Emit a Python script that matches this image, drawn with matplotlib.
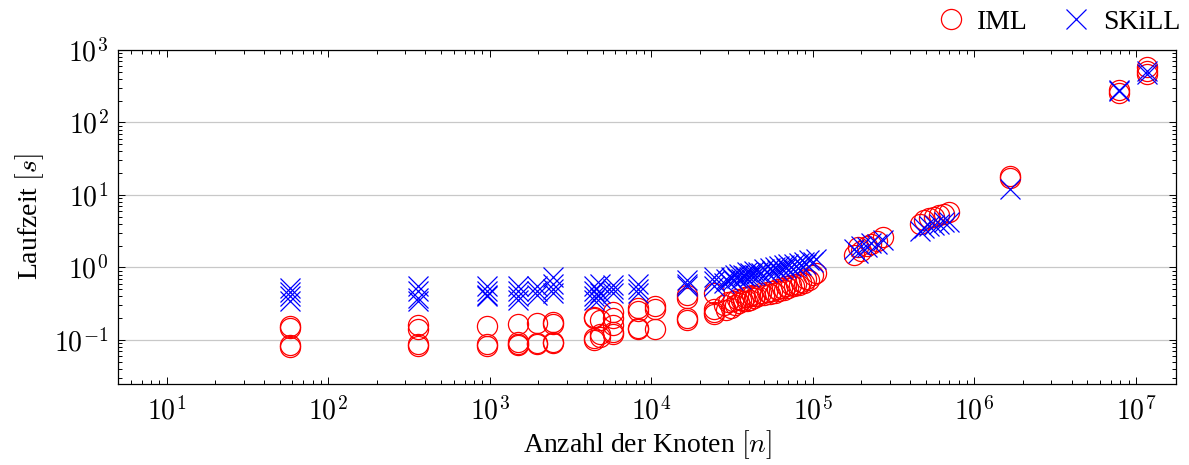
import numpy as np
import matplotlib
matplotlib.use("Agg")
import matplotlib.pyplot as plt
from matplotlib.ticker import LogLocator, FuncFormatter, NullFormatter, FixedLocator

plt.rcParams['font.family'] = ['Liberation Serif', 'DejaVu Serif']
plt.rcParams['mathtext.fontset'] = 'cm'

# ---------------- data ----------------
iml_nodes = [
    58, 58, 58, 58,
    360, 360, 360, 360,
    960, 960, 960,
    1500, 1500, 1500, 1500,
    1950, 1950, 1950,
    2450, 2450, 2450, 2450,
    4400, 4400, 4400, 4400,
    4800, 4800, 4800,
    5800, 5800, 5800, 5800, 5800,
    8300, 8300, 8300, 8300,
    10500, 10500, 10500,
    16600, 16600, 16600, 16600,
    24500, 24500, 24500, 24500,
    28000, 29000, 30000, 31000, 32000, 33000, 34000, 35000, 36000, 37000,
    38000, 39000, 40000, 41000, 42000, 43000, 44000, 46000, 48000, 50000,
    52000, 54000, 56000, 58000, 60000, 62000, 64000, 66000, 68000, 70000,
    73000, 76000, 79000, 82000, 85000, 88000, 91000, 95000, 100000, 105000,
    180000, 190000, 200000, 215000, 230000, 250000, 270000,
    460000, 490000, 520000, 560000, 600000, 650000, 700000,
    1650000, 1650000,
    7800000, 7800000,
    11700000, 11700000, 11700000,
]
iml_time = [
    0.155, 0.145, 0.085, 0.080,
    0.160, 0.140, 0.088, 0.082,
    0.155, 0.088, 0.083,
    0.165, 0.095, 0.088, 0.085,
    0.170, 0.090, 0.087,
    0.175, 0.165, 0.095, 0.090,
    0.210, 0.200, 0.105, 0.100,
    0.190, 0.120, 0.110,
    0.240, 0.200, 0.160, 0.130, 0.120,
    0.280, 0.250, 0.145, 0.140,
    0.290, 0.270, 0.140,
    0.420, 0.380, 0.200, 0.190,
    0.450, 0.270, 0.240, 0.230,
    0.30, 0.26, 0.33, 0.28, 0.35, 0.30, 0.37, 0.32, 0.36, 0.34,
    0.39, 0.35, 0.40, 0.36, 0.42, 0.38, 0.41, 0.40, 0.44, 0.42,
    0.46, 0.43, 0.48, 0.45, 0.50, 0.47, 0.52, 0.49, 0.55, 0.52,
    0.57, 0.55, 0.60, 0.58, 0.64, 0.62, 0.70, 0.68, 0.78, 0.85,
    1.50, 1.90, 1.70, 2.00, 2.10, 2.30, 2.60,
    4.00, 4.50, 4.80, 5.00, 5.30, 5.50, 5.80,
    18.5, 17.0,
    285.0, 255.0,
    580.0, 520.0, 470.0,
]

skill_nodes = [
    58, 58, 58, 58,
    360, 360, 360, 360,
    960, 960, 960, 960,
    1500, 1500, 1500, 1500,
    1950, 1950, 1950,
    2450, 2450, 2450, 2450,
    4400, 4400, 4400, 4400,
    4800, 4800, 4800,
    5800, 5800, 5800,
    8300, 8300, 8300,
    16600, 16600, 16600,
    24500, 24500, 24500,
    28000, 29000, 30000, 31000, 32000, 33000, 34000, 35000, 36000, 37000,
    38000, 39000, 40000, 41000, 42000, 43000, 44000, 46000, 48000, 50000,
    52000, 54000, 56000, 58000, 60000, 62000, 64000, 66000, 68000, 70000,
    73000, 76000, 79000, 82000, 85000, 88000, 91000, 95000, 100000, 105000,
    180000, 190000, 200000, 215000, 230000, 250000, 270000,
    460000, 490000, 520000, 560000, 600000, 650000, 700000,
    1650000,
    7800000, 7800000,
    11700000, 11700000,
]
skill_time = [
    0.52, 0.46, 0.40, 0.35,
    0.56, 0.48, 0.38, 0.34,
    0.55, 0.48, 0.42, 0.40,
    0.55, 0.47, 0.40, 0.36,
    0.55, 0.48, 0.42,
    0.75, 0.60, 0.50, 0.45,
    0.55, 0.48, 0.40, 0.36,
    0.60, 0.45, 0.38,
    0.58, 0.50, 0.44,
    0.60, 0.50, 0.45,
    0.68, 0.60, 0.55,
    0.75, 0.65, 0.55,
    0.62, 0.70, 0.66, 0.75, 0.68, 0.78, 0.72, 0.82, 0.70, 0.80,
    0.76, 0.86, 0.74, 0.84, 0.80, 0.90, 0.78, 0.88, 0.84, 0.95,
    0.86, 0.98, 0.90, 1.00, 0.92, 1.05, 0.95, 1.08, 0.98, 1.10,
    1.02, 1.12, 1.05, 1.15, 1.08, 1.20, 1.12, 1.25, 1.20, 1.30,
    1.80, 1.60, 2.00, 1.90, 2.20, 2.10, 2.40,
    3.20, 3.50, 3.70, 3.80, 4.00, 4.20, 4.30,
    12.0,
    280.0, 270.0,
    520.0, 470.0,
]

x_major_ticks = [1e1, 1e2, 1e3, 1e4, 1e5, 1e6, 1e7]
y_major_ticks = [1e-1, 1e0, 1e1, 1e2, 1e3]

# ---------------- figure ----------------
fig = plt.figure(figsize=(11.89, 4.65), dpi=100)
ax = fig.add_axes([118/1189, 1-384/465, (1176-118)/1189, (384-50)/465])

ax.set_xscale('log')
ax.set_yscale('log')
ax.set_xlim(5.0, 1.77e7)
ax.set_ylim(0.0247, 1000)

ax.plot(iml_nodes, iml_time, linestyle='none', marker='o', markersize=14.5,
        markerfacecolor='none', markeredgecolor='#ff0000', markeredgewidth=0.9,
        label='IML', zorder=3)
ax.plot(skill_nodes, skill_time, linestyle='none', marker='x', markersize=14.5,
        color='#0000ff', markeredgewidth=0.9, label='SKiLL', zorder=4)

ax.yaxis.grid(True, which='major', color='#c8c8c8', linewidth=0.9)
ax.xaxis.grid(False)
ax.set_axisbelow(True)

ax.xaxis.set_major_locator(FixedLocator(x_major_ticks))
ax.yaxis.set_major_locator(FixedLocator(y_major_ticks))
ax.xaxis.set_minor_locator(LogLocator(base=10, subs=np.arange(2, 10), numticks=100))
ax.yaxis.set_minor_locator(LogLocator(base=10, subs=np.arange(2, 10), numticks=100))
fmt = FuncFormatter(lambda v, p: r'$10^{%d}$' % int(round(np.log10(v))))
ax.xaxis.set_major_formatter(fmt)
ax.yaxis.set_major_formatter(fmt)
ax.xaxis.set_minor_formatter(NullFormatter())
ax.yaxis.set_minor_formatter(NullFormatter())

ax.tick_params(which='both', direction='in', top=True, right=True, width=0.7, colors='black')
ax.tick_params(which='major', length=5, labelsize=20)
ax.tick_params(axis='x', which='major', pad=9)
ax.tick_params(axis='y', which='major', pad=7)
ax.tick_params(which='minor', length=3)
for s in ax.spines.values():
    s.set_linewidth(0.9)

ax.set_xlabel(r'Anzahl der Knoten $[n]$', fontsize=20, labelpad=2)
ax.set_ylabel(r'Laufzeit $[s]$', fontsize=20, labelpad=6)

ax.legend(loc='center right', bbox_to_anchor=(1.004, 1 + 28/334), ncol=2, frameon=False,
          fontsize=20, handletextpad=0.45, columnspacing=1.25, borderaxespad=0.0,
          borderpad=0.0, handlelength=1.0)

fig.savefig('out.png', dpi=100)
